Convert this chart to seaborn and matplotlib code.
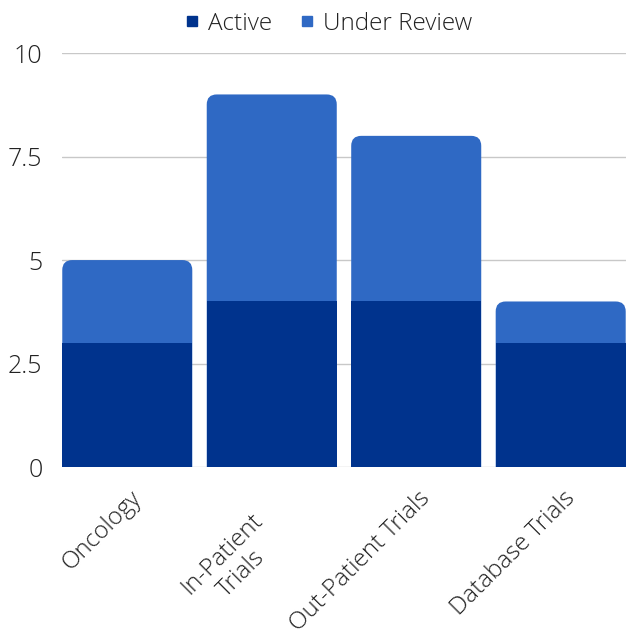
import pandas as pd
import seaborn as sns
import matplotlib.pyplot as plt
from matplotlib.patches import FancyBboxPatch
from matplotlib.lines import Line2D
from matplotlib.transforms import ScaledTranslation

# chart data
categories = ['Oncology', 'In-Patient\nTrials', 'Out-Patient Trials', 'Database Trials']
active = [3, 4, 4, 3]
under_review = [2, 5, 4, 1]
y_ticks = [0, 2.5, 5, 7.5, 10]
y_tick_labels = ['0', '2.5', '5', '7.5', '10']

dark = '#00338d'
light = '#2f69c4'

df = pd.DataFrame({'category': categories, 'active': active, 'under_review': under_review})
df['total'] = df['active'] + df['under_review']

sns.set_style('white')
plt.rcParams['font.family'] = ['Open Sans', 'DejaVu Sans']
plt.rcParams['font.weight'] = 'light'

fig = plt.figure(figsize=(6.26, 6.39), dpi=100)
ax = fig.add_axes([0.099, 0.269, 0.901, 0.648])

# totals first (light), active on top (dark)
sns.barplot(data=df, x='category', y='total', color=light, saturation=1, width=0.9,
            linewidth=0, ax=ax, zorder=2)
n_top = len(ax.patches)
sns.barplot(data=df, x='category', y='active', color=dark, saturation=1, width=0.9,
            linewidth=0, ax=ax, zorder=3)

ax.set_xlim(-0.452, 3.452)
ax.set_ylim(0, 10)

# rounded top corners on the stacked bars (bottom corners pushed below the axis and clipped)
fig.canvas.draw()
px_x = ax.transData.transform((1, 0))[0] - ax.transData.transform((0, 0))[0]
px_y = ax.transData.transform((0, 1))[1] - ax.transData.transform((0, 0))[1]
aspect = px_x / px_y
radius = 10 / px_x
for p in list(ax.patches[:n_top]):
    x, y, w, h = p.get_x(), p.get_y(), p.get_width(), p.get_height()
    p.remove()
    rb = FancyBboxPatch((x, y - 1), w, h + 1, boxstyle=f'round,pad=0,rounding_size={radius}',
                        mutation_aspect=aspect, fc=light, ec='none', zorder=2)
    ax.add_patch(rb)

ax.set_yticks(y_ticks)
ax.set_yticklabels(y_tick_labels)
ax.yaxis.grid(True, color='#c8c8c8', linewidth=1, zorder=0)
ax.set_axisbelow(True)
for s in ax.spines.values():
    s.set_visible(False)
ax.set_xlabel('')
ax.set_ylabel('')
ax.tick_params(axis='y', labelsize=18, labelcolor='#222222', length=0, pad=14)
ax.tick_params(axis='x', labelsize=17.5, labelcolor='#222222', length=0, pad=14)
for lbl in ax.get_xticklabels():
    lbl.set_rotation(45)
    lbl.set_ha('right')
    lbl.set_va('top')
    lbl.set_rotation_mode('anchor')
    lbl.set_multialignment('center')
    # offsets in pixels
    dx, dy = 2, 0
    if '\n' in lbl.get_text():
        dx, dy = -21, -22
    lbl.set_transform(lbl.get_transform() + ScaledTranslation(dx / 100, dy / 100, fig.dpi_scale_trans))

handles = [Line2D([], [], marker='s', linestyle='none', color=dark, markersize=7.2),
           Line2D([], [], marker='s', linestyle='none', color=light, markersize=7.2)]
fig.legend(handles, ['Active', 'Under Review'], loc='upper center', bbox_to_anchor=(0.526, 1.016),
           ncol=2, frameon=False, fontsize=17.5, handlelength=0.5, handletextpad=0.4,
           columnspacing=1.2, labelcolor='#222222')

fig.savefig('out.png', dpi=100)
